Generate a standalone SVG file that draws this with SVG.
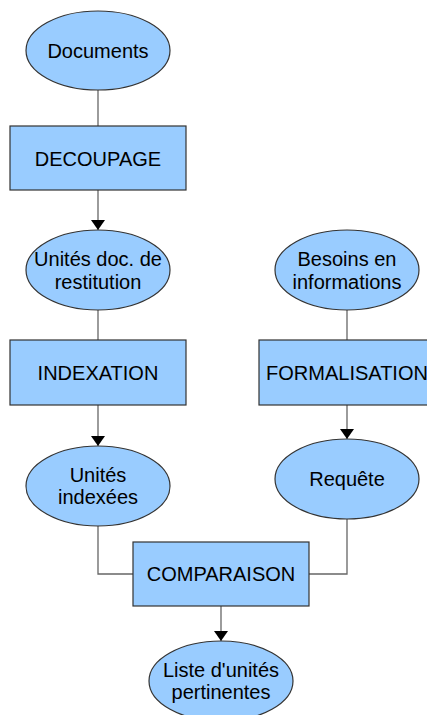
<svg xmlns="http://www.w3.org/2000/svg" width="427" height="715" viewBox="0 0 427 715">
  <style>
    .shape { fill: #99ccff; stroke: #333333; stroke-width: 1.2; }
    .label { font-family: "Liberation Sans", Arial, sans-serif; font-size: 20px; fill: #000000; text-anchor: middle; }
    .link { fill: none; stroke: #666666; stroke-width: 1.3; }
  </style>
  <defs>
    <marker id="arrow" viewBox="0 0 10 14" refX="10" refY="7" markerUnits="userSpaceOnUse" markerWidth="10" markerHeight="14" orient="auto">
      <path d="M0,0 L10,7 L0,14 z" fill="#000000"/>
    </marker>
  </defs>
  <rect width="427" height="715" fill="#ffffff"/>

  <g id="connectors">
    <path class="link" d="M98,90 V126"/>
    <path class="link" d="M98,190 V230" marker-end="url(#arrow)"/>
    <path class="link" d="M98,310 V340"/>
    <path class="link" d="M98,405 V446" marker-end="url(#arrow)"/>
    <path class="link" d="M347,310 V340"/>
    <path class="link" d="M347,405 V439" marker-end="url(#arrow)"/>
    <path class="link" d="M98,526 V574 H133"/>
    <path class="link" d="M347,519 V574 H309"/>
    <path class="link" d="M221,606 V641" marker-end="url(#arrow)"/>
  </g>

  <g id="documents">
    <ellipse class="shape" cx="98" cy="50.5" rx="72" ry="39.5"/>
    <text class="label" x="98" y="57.5">Documents</text>
  </g>
  <g id="decoupage">
    <rect class="shape" x="10" y="126" width="176" height="64"/>
    <text class="label" x="98" y="166">DECOUPAGE</text>
  </g>
  <g id="unites-restitution">
    <ellipse class="shape" cx="98" cy="270" rx="72" ry="40"/>
    <text class="label" x="98" y="266">Unités doc. de</text>
    <text class="label" x="98" y="289">restitution</text>
  </g>
  <g id="indexation">
    <rect class="shape" x="10" y="340" width="176" height="65"/>
    <text class="label" x="98" y="380">INDEXATION</text>
  </g>
  <g id="unites-indexees">
    <ellipse class="shape" cx="98" cy="486" rx="72" ry="40"/>
    <text class="label" x="98" y="482">Unités</text>
    <text class="label" x="98" y="504">indexées</text>
  </g>
  <g id="besoins">
    <ellipse class="shape" cx="347" cy="270" rx="72" ry="40"/>
    <text class="label" x="347" y="266">Besoins en</text>
    <text class="label" x="347" y="289">informations</text>
  </g>
  <g id="formalisation">
    <rect class="shape" x="259" y="340" width="176" height="65"/>
    <text class="label" x="347" y="380">FORMALISATION</text>
  </g>
  <g id="requete">
    <ellipse class="shape" cx="347" cy="479" rx="72" ry="40"/>
    <text class="label" x="347" y="486">Requête</text>
  </g>
  <g id="comparaison">
    <rect class="shape" x="133" y="542" width="176" height="64"/>
    <text class="label" x="221" y="581">COMPARAISON</text>
  </g>
  <g id="liste">
    <ellipse class="shape" cx="221" cy="681" rx="72" ry="40"/>
    <text class="label" x="221" y="677">Liste d'unités</text>
    <text class="label" x="221" y="699">pertinentes</text>
  </g>
</svg>
